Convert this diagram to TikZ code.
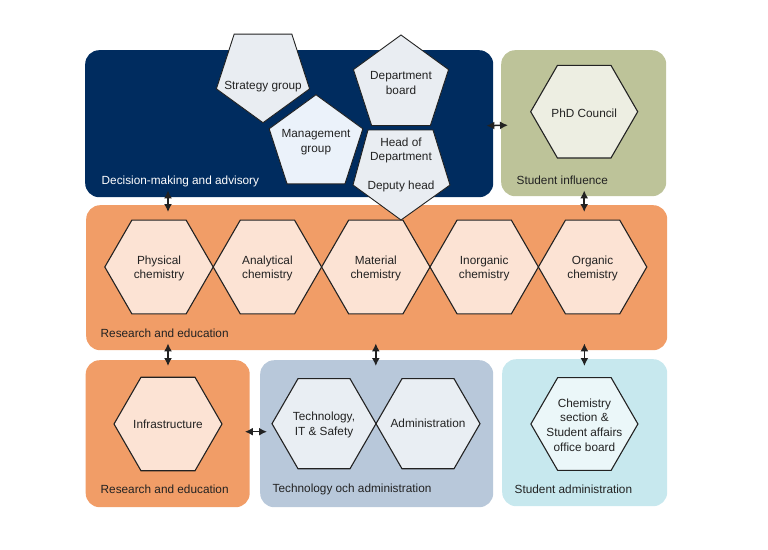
\documentclass[tikz,border=0pt]{standalone}
\usepackage{fontspec}
\setmainfont{Liberation Sans}
\usepackage{xcolor}
\usetikzlibrary{shapes.geometric,arrows.meta}

\definecolor{navy}{RGB}{0,44,95}
\definecolor{olive}{RGB}{189,195,153}
\definecolor{orange}{RGB}{241,157,103}
\definecolor{peach}{RGB}{252,227,212}
\definecolor{steel}{RGB}{184,200,218}
\definecolor{steelfill}{RGB}{233,238,243}
\definecolor{aqua}{RGB}{199,232,238}
\definecolor{aquafill}{RGB}{235,247,249}
\definecolor{olivefill}{RGB}{237,238,226}
\definecolor{pentfill}{RGB}{233,237,242}
\definecolor{mgmtfill}{RGB}{235,242,250}
\definecolor{edge}{RGB}{34,34,34}

\begin{document}
\begin{tikzpicture}[x=1pt,y=-1pt,
    box/.style={rounded corners=14pt, anchor=north west, inner sep=0pt},
    hex/.style={regular polygon, regular polygon sides=6, draw=edge, line width=1.1pt, inner sep=0pt},
    pent/.style={regular polygon, regular polygon sides=5, draw=edge, line width=0.9pt,
        fill=pentfill, inner sep=0pt},
    txt/.style={align=center, text=edge, font=\fontsize{11.8}{14.7}\selectfont},
    lbl/.style={anchor=west, inner sep=0pt, text=edge, font=\fontsize{11.8}{14.7}\selectfont},
    dbl/.style={{Latex[length=8pt,width=8pt]}-{Latex[length=8pt,width=8pt]}, line width=1.5pt, draw=edge}]
    \useasboundingbox (0,0) rectangle (768,549);

    % boxes
    \node[box, fill=navy, minimum width=408pt, minimum height=147pt] (decision) at (85,50) {};
    \node[box, fill=olive, minimum width=165pt, minimum height=146pt] (influence) at (501,50) {};
    \node[box, fill=orange, minimum width=581pt, minimum height=145pt] (research) at (86,205) {};
    \node[box, fill=orange, minimum width=164pt, minimum height=147pt] (infrabox) at (85.5,360) {};
    \node[box, fill=steel, minimum width=233pt, minimum height=147pt] (techadm) at (260,360) {};
    \node[box, fill=aqua, minimum width=165pt, minimum height=147pt] (studadm) at (502,359) {};

    \node[lbl, text=white] (decisionlbl) at (101.5,181) {Decision-making and advisory};
    \node[lbl] (influencelbl) at (516.5,180) {Student influence};
    \node[lbl] (researchlbl) at (100.5,333.5) {Research and education};
    \node[lbl] (infralbl) at (100.5,489.5) {Research and education};
    \node[lbl] (techadmlbl) at (272.5,489.5) {Technology och administration};
    \node[lbl] (studadmlbl) at (514.5,489.5) {Student administration};

    % hexagons
    \foreach \n/\t [count=\i from 0] in {phys/{Physical\\chemistry}, anal/{Analytical\\chemistry},
        mat/{Material\\chemistry}, inorg/{Inorganic\\chemistry}, org/{Organic\\chemistry}} {
        \node[hex, fill=peach, minimum size=108.4pt] (\n) at (159+108.4*\i,267) {};
        \node[txt] (\n-t) at ([yshift=-1.5pt]\n) {\t};
    }
    \node[hex, fill=peach, minimum size=108pt] (infra) at (168,424) {};
    \node[txt] (infra-t) at (infra) {Infrastructure};
    \node[hex, fill=steelfill, minimum size=104pt] (tech) at (324,423.7) {};
    \node[txt] (tech-t) at ([yshift=-1pt]tech) {Technology,\\IT \& Safety};
    \node[hex, fill=steelfill, minimum size=104pt] (adm) at (428,423.7) {};
    \node[txt] (adm-t) at (adm) {Administration};
    \node[hex, fill=aquafill, minimum size=107pt] (chem) at (584.4,424) {};
    \node[txt] (chem-t) at ([yshift=-1pt]chem) {Chemistry\\section \&\\Student affairs\\office board};
    \node[hex, fill=olivefill, minimum size=107pt] (phd) at (584.2,111.7) {};
    \node[txt] (phd-t) at ([yshift=-2pt]phd) {PhD Council};

    % pentagons
    \node[pent, shape border rotate=180, minimum size=98pt] (strategy) at (263,73.7) {};
    \node[txt] (strategy-t) at (263,87) {Strategy group};
    \node[pent, minimum size=100pt] (board) at (401,85) {};
    \node[txt] (board-t) at (401,83) {Department\\board};
    \node[pent, fill=mgmtfill, minimum size=98.5pt] (mgmt) at (316,144) {};
    \node[txt] (mgmt-t) at (316,142.5) {Management\\group};
    \coordinate (head) at (401,165);
    \draw[draw=edge, line width=0.9pt, fill=pentfill, shift={(head)}]
        (-33,-35) -- (32,-35) -- (49,20) -- (0,55) -- (-48,20) -- cycle;
    \node[txt] (head-t) at (401,150.5) {Head of\\Department};
    \node[txt] (deputy-t) at (401,186) {Deputy head};

    % arrows
    \draw[dbl] ([yshift=7pt]decision.south -| infra) -- ([yshift=-7pt]research.north -| infra);
    \draw[dbl] ([yshift=6pt]influence.south -| phd) -- ([yshift=-7pt]research.north -| phd);
    \draw[dbl] ([xshift=-7pt,yshift=-2pt]decision.east) -- ([xshift=7pt,yshift=-2pt]influence.west);
    \draw[dbl] ([yshift=7pt]research.south -| infra) -- ([yshift=-6pt]infrabox.north -| infra);
    \draw[dbl] ([yshift=7pt]research.south -| mat) -- ([yshift=-6pt]techadm.north -| mat);
    \draw[dbl] ([yshift=7pt]research.south -| chem) -- ([yshift=-7pt]studadm.north -| chem);
    \draw[dbl] ([xshift=-5pt,yshift=2pt]infrabox.east) -- ([xshift=7pt,yshift=2pt]techadm.west);
\end{tikzpicture}
\end{document}
